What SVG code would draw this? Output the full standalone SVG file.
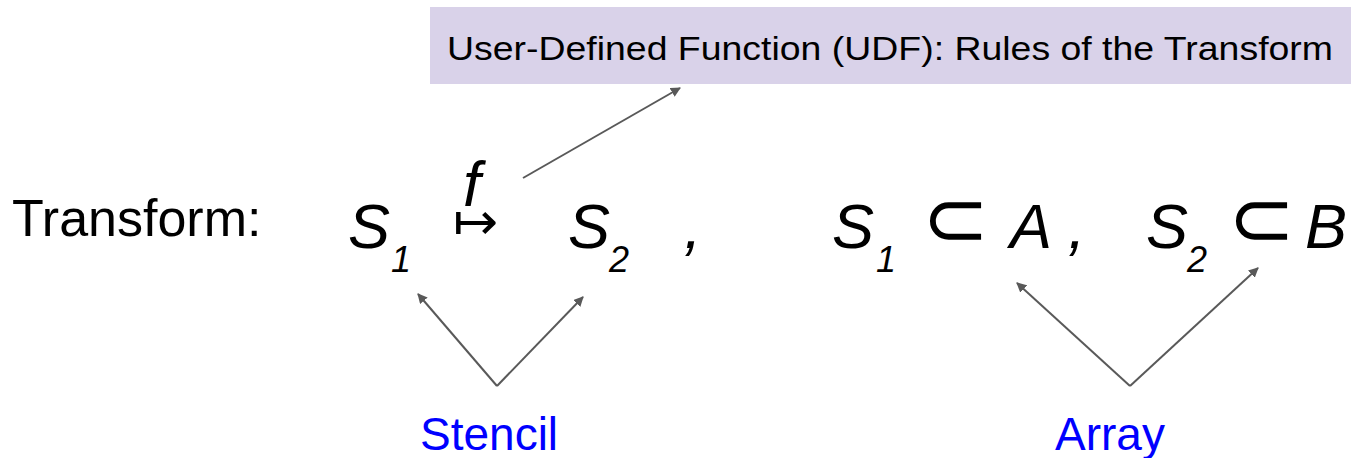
<svg xmlns="http://www.w3.org/2000/svg" width="1351" height="458" viewBox="0 0 1351 458">
<style>
.t{font-family:"Liberation Sans",Arial,sans-serif;fill:#000}
.m{font-family:"Liberation Sans",Arial,sans-serif;font-style:italic;fill:#000;font-size:63px}
.sub{font-family:"Liberation Sans",Arial,sans-serif;font-style:italic;fill:#000;font-size:36px}
.sym{font-family:"DejaVu Sans",sans-serif;font-weight:200;fill:#000}
.lbl{font-family:"Liberation Sans",Arial,sans-serif;fill:#0000ff;font-size:46px}
.c{stroke:#595959;stroke-width:2;fill:none;marker-end:url(#ah)}
</style>
<defs>
<marker id="ah" viewBox="0 0 10 10" refX="9" refY="5" markerWidth="5" markerHeight="5" orient="auto" markerUnits="strokeWidth">
<path d="M0,0 L10,5 L0,10 z" fill="#595959"/>
</marker>
</defs>
<g id="udf">
<rect x="430" y="7" width="921" height="77" fill="#d9d2e9"/>
<text class="t" x="447" y="60" font-size="33" textLength="886" lengthAdjust="spacingAndGlyphs">User-Defined Function (UDF): Rules of the Transform</text>
</g>
<g id="transform-label">
<text class="t" x="12" y="236" font-size="52">Transform:</text>
</g>
<g id="formula1">
<text class="m" x="348" y="248">S</text>
<text class="sub" x="391" y="272">1</text>
<text class="m" x="463" y="206" font-size="40">f</text>
<text class="sym" x="453" y="240" font-size="54">↦</text>
<text class="m" x="568" y="248">S</text>
<text class="sub" x="609" y="272">2</text>
<text class="m" x="684" y="248">,</text>
</g>
<g id="formula2">
<text class="m" x="832" y="248">S</text>
<text class="sub" x="876" y="272">1</text>
<text class="sym" x="922" y="246" font-size="80">⊂</text>
<text class="m" x="1010" y="248">A</text>
<text class="m" x="1068" y="248">,</text>
<text class="m" x="1146" y="248">S</text>
<text class="sub" x="1187" y="272">2</text>
<text class="sym" x="1228" y="246" font-size="80">⊂</text>
<text class="m" x="1305" y="248">B</text>
</g>
<g id="stencil">
<text class="lbl" x="420" y="450">Stencil</text>
</g>
<g id="array">
<text class="lbl" x="1055" y="450">Array</text>
</g>
<g id="connectors">
<line class="c" x1="523" y1="178" x2="680" y2="88"/>
<line class="c" x1="497" y1="386" x2="418" y2="294"/>
<line class="c" x1="497" y1="386" x2="583" y2="297"/>
<line class="c" x1="1130" y1="386" x2="1017" y2="283"/>
<line class="c" x1="1130" y1="386" x2="1258" y2="268"/>
</g>
</svg>
